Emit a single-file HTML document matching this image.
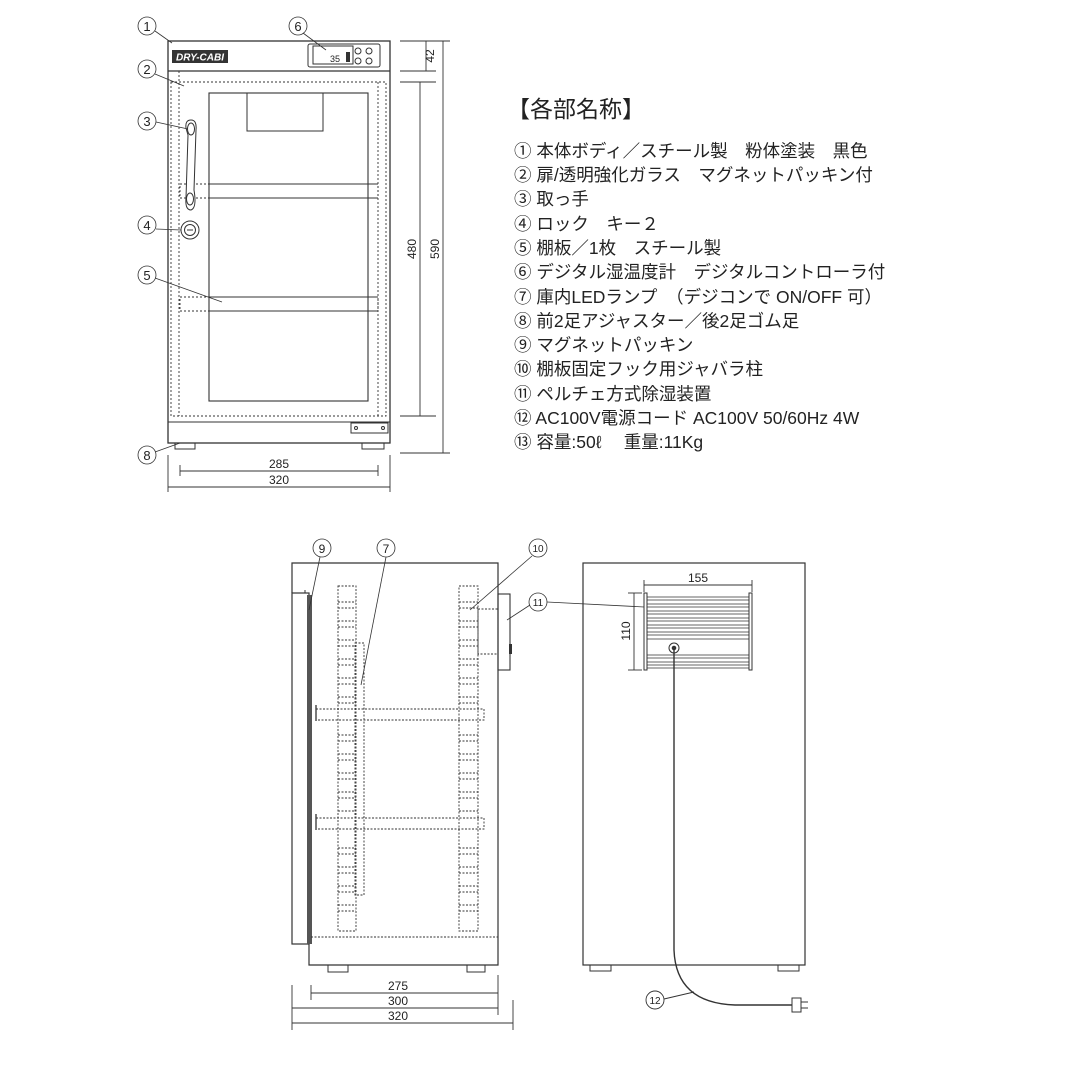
<!DOCTYPE html>
<html><head><meta charset="utf-8"><style>
html,body{margin:0;padding:0;background:#fff}
svg{display:block}
.t{font-family:"Liberation Sans","Noto Sans CJK JP",sans-serif;fill:#222}
</style></head><body>
<svg width="1072" height="1072" viewBox="0 0 1072 1072" xmlns="http://www.w3.org/2000/svg" stroke="#333" fill="none" stroke-width="1">
<!-- FRONT VIEW -->
<rect x="168" y="41" width="222" height="402" stroke-width="1.3"/>
<line x1="168" y1="71" x2="390" y2="71" stroke-width="1.3"/>
<line x1="168" y1="422" x2="390" y2="422"/>
<rect x="172" y="50" width="56" height="13" fill="#333" stroke="none"/>
<text x="200" y="60.5" class="t" font-size="10" font-style="italic" font-weight="bold" text-anchor="middle" style="fill:#fff" stroke="none">DRY-CABI</text>
<rect x="308" y="44" width="72" height="23" rx="2"/>
<rect x="313" y="46" width="40" height="18"/>
<text x="330" y="62" class="t" font-size="9" stroke="none">35</text>
<rect x="346" y="52" width="4" height="10" fill="#333" stroke="none"/>
<circle cx="358" cy="51" r="3"/><circle cx="369" cy="51" r="3"/>
<circle cx="358" cy="61" r="3"/><circle cx="369" cy="61" r="3"/>
<g stroke-dasharray="2,2" stroke-width="0.9">
<rect x="171" y="82" width="215" height="334"/>
<line x1="179" y1="71" x2="179" y2="416"/>
<line x1="378" y1="82" x2="378" y2="416"/>
<rect x="180" y="184" width="198" height="14"/>
<rect x="180" y="297" width="198" height="14"/>
</g>
<rect x="209" y="93" width="159" height="308" stroke-width="1.1"/>
<rect x="247" y="93" width="76" height="38"/>
<line x1="209" y1="184" x2="378" y2="184"/>
<line x1="209" y1="198" x2="378" y2="198"/>
<line x1="209" y1="297" x2="378" y2="297"/>
<line x1="209" y1="311" x2="378" y2="311"/>
<path d="M186 128 Q185 120 191 120 Q197 120 196 130 L194 190 Q197 208 191 210 Q185 210 186 198 L188 135 Z" fill="#fff"/>
<ellipse cx="191" cy="129" rx="3.5" ry="6"/><ellipse cx="190" cy="199" rx="3.5" ry="6"/>
<circle cx="190" cy="230" r="9"/><circle cx="190" cy="230" r="5.5"/>
<line x1="187" y1="230" x2="193" y2="230"/>
<rect x="351" y="423" width="37" height="10"/>
<circle cx="356" cy="428" r="1.5"/><circle cx="383" cy="428" r="1.5"/>
<rect x="175" y="443" width="20" height="6"/>
<rect x="362" y="443" width="22" height="6"/>
<!-- front dims -->
<g stroke-width="0.9">
<line x1="400" y1="41" x2="450" y2="41"/><line x1="400" y1="71" x2="436" y2="71"/>
<line x1="400" y1="82" x2="436" y2="82"/><line x1="400" y1="416" x2="436" y2="416"/>
<line x1="400" y1="453" x2="450" y2="453"/>
<line x1="426" y1="41" x2="426" y2="71"/>
<line x1="420" y1="82" x2="420" y2="416"/>
<line x1="443" y1="41" x2="443" y2="453"/>
<line x1="168" y1="455" x2="168" y2="492"/><line x1="390" y1="455" x2="390" y2="492"/>
<line x1="180" y1="465" x2="180" y2="476"/><line x1="378" y1="465" x2="378" y2="476"/>
<line x1="180" y1="471" x2="378" y2="471"/>
<line x1="168" y1="487" x2="390" y2="487"/>
</g>
<g class="t" stroke="none" font-size="12">
<text x="279" y="468" text-anchor="middle">285</text>
<text x="279" y="484" text-anchor="middle">320</text>
<text transform="translate(434,56) rotate(-90)" text-anchor="middle">42</text>
<text transform="translate(416,249) rotate(-90)" text-anchor="middle">480</text>
<text transform="translate(439,249) rotate(-90)" text-anchor="middle">590</text>
</g>
<!-- front callouts -->
<g stroke-width="0.8">
<line x1="155" y1="31" x2="172" y2="43"/>
<line x1="155" y1="74" x2="184" y2="86"/>
<line x1="156" y1="122" x2="188" y2="129"/>
<line x1="156" y1="229" x2="181" y2="230"/>
<line x1="155" y1="278" x2="222" y2="302"/>
<line x1="303" y1="33" x2="326" y2="50"/>
<line x1="155" y1="452" x2="180" y2="443"/>
<circle cx="147" cy="26" r="9"/><circle cx="147" cy="69" r="9"/><circle cx="147" cy="121" r="9"/>
<circle cx="147" cy="225" r="9"/><circle cx="147" cy="275" r="9"/><circle cx="298" cy="26" r="9"/><circle cx="147" cy="455" r="9"/>
</g>
<g class="t" stroke="none" font-size="13" text-anchor="middle">
<text x="147" y="31">1</text><text x="147" y="74">2</text><text x="147" y="126">3</text>
<text x="147" y="230">4</text><text x="147" y="280">5</text><text x="298" y="31">6</text><text x="147" y="460">8</text>
</g>

<!-- TEXT -->
<g class="t" stroke="none" xml:space="preserve">
<text x="507" y="117" font-size="23">【各部名称】</text>
<g font-size="17.5">
<text x="514" y="157">① 本体ボディ／スチール製　粉体塗装　黒色</text>
<text x="514" y="181">② 扉/透明強化ガラス　マグネットパッキン付</text>
<text x="514" y="205">③ 取っ手</text>
<text x="514" y="230">④ ロック　キー２</text>
<text x="514" y="254">⑤ 棚板／1枚　スチール製</text>
<text x="514" y="278">⑥ デジタル湿温度計　デジタルコントローラ付</text>
<text x="514" y="303">⑦ 庫内LEDランプ　（デジコンで ON/OFF 可）</text>
<text x="514" y="327">⑧ 前2足アジャスター／後2足ゴム足</text>
<text x="514" y="351">⑨ マグネットパッキン</text>
<text x="514" y="375">⑩ 棚板固定フック用ジャバラ柱</text>
<text x="514" y="400">⑪ ペルチェ方式除湿装置</text>
<text x="514" y="424">⑫ AC100V電源コード   AC100V  50/60Hz   4W</text>
<text x="514" y="448">⑬ 容量:50ℓ　 重量:11Kg</text>
</g></g>

<!-- SIDE VIEW -->
<path d="M292 593 V563 H498 V965 H309 V944" stroke-width="1.2"/>
<rect x="292" y="593" width="17" height="351" stroke-width="1.2"/>
<path d="M292 593 H305 V590" />
<rect x="307" y="595" width="5" height="349" fill="#555" stroke="none"/>
<line x1="309" y1="944" x2="309" y2="965"/>
<rect x="328" y="965" width="20" height="7"/><rect x="467" y="965" width="18" height="7"/>
<rect x="498" y="594" width="12" height="76" stroke-width="1.1"/>
<rect x="509" y="644" width="3" height="10" fill="#333" stroke="none"/>
<g stroke-dasharray="2,1.5" stroke-width="0.9">
<line x1="311" y1="937" x2="498" y2="937"/>
<rect x="338" y="586" width="18" height="345"/>
<rect x="459" y="586" width="19" height="345"/>
<rect x="355" y="643" width="9" height="252"/>
<rect x="478" y="609" width="20" height="45"/>
<rect x="316" y="709" width="168" height="11"/>
<rect x="316" y="818" width="168" height="11"/>
<path d="M338 602H356M338 608H356M338 621H356M338 627H356M338 640H356M338 646H356M338 659H356M338 665H356M338 678H356M338 684H356M338 697H356M338 703H356M338 735H356M338 741H356M338 754H356M338 760H356M338 773H356M338 779H356M338 792H356M338 798H356M338 811H356M338 848H356M338 854H356M338 867H356M338 873H356M338 886H356M338 892H356M338 905H356M338 911H356"/>
<path d="M459 602H478M459 608H478M459 621H478M459 627H478M459 640H478M459 646H478M459 659H478M459 665H478M459 678H478M459 684H478M459 697H478M459 703H478M459 735H478M459 741H478M459 754H478M459 760H478M459 773H478M459 779H478M459 792H478M459 798H478M459 811H478M459 848H478M459 854H478M459 867H478M459 873H478M459 886H478M459 892H478M459 905H478M459 911H478"/>
</g>
<line x1="316" y1="705" x2="316" y2="721" stroke-width="1.3"/>
<line x1="316" y1="814" x2="316" y2="830" stroke-width="1.3"/>
<!-- side dims -->
<g stroke-width="0.9">
<line x1="292" y1="985" x2="292" y2="1030"/><line x1="498" y1="975" x2="498" y2="1015"/>
<line x1="311" y1="985" x2="311" y2="1000"/><line x1="513" y1="1000" x2="513" y2="1030"/>
<line x1="311" y1="993" x2="498" y2="993"/>
<line x1="292" y1="1008" x2="498" y2="1008"/>
<line x1="292" y1="1023" x2="513" y2="1023"/>
</g>
<g class="t" stroke="none" font-size="12" text-anchor="middle">
<text x="398" y="990">275</text><text x="398" y="1005">300</text><text x="398" y="1020">320</text>
</g>
<g stroke-width="0.8">
<line x1="320" y1="557" x2="309" y2="610"/>
<line x1="386" y1="557" x2="361" y2="685"/>
<line x1="532" y1="556" x2="470" y2="610"/>
<line x1="530" y1="605" x2="507" y2="620"/>
<line x1="547" y1="602" x2="644" y2="607"/>
<circle cx="322" cy="548" r="9"/><circle cx="386" cy="548" r="9"/>
<circle cx="538" cy="548" r="9"/><circle cx="538" cy="602" r="9"/>
</g>
<g class="t" stroke="none" font-size="12" text-anchor="middle">
<text x="322" y="553">9</text><text x="386" y="553">7</text>
<text x="538" y="552" font-size="10">10</text><text x="538" y="606" font-size="10">11</text>
</g>

<!-- BACK VIEW -->
<rect x="583" y="563" width="222" height="402" stroke-width="1.2"/>
<rect x="590" y="965" width="21" height="6"/><rect x="778" y="965" width="21" height="6"/>
<rect x="644" y="593" width="3" height="77"/><rect x="749" y="593" width="3" height="77"/>
<path d="M647 597H749M647 600H749M647 604H749M647 607H749M647 611H749M647 614H749M647 618H749M647 621H749M647 625H749M647 628H749M647 632H749M647 635H749M647 639H749M647 655H749M647 658H749M647 662H749M647 665H749M647 668H749" stroke-width="0.8"/>
<circle cx="674" cy="648" r="5"/><circle cx="674" cy="648" r="1.8" fill="#333"/>
<path d="M674 648 V950 Q676 1003 735 1005 H792" stroke-width="1.4"/>
<rect x="792" y="998" width="9" height="14" fill="#fff"/>
<path d="M801 1002H808M801 1008H808"/>
<g stroke-width="0.9">
<line x1="644" y1="580" x2="644" y2="592"/><line x1="752" y1="580" x2="752" y2="592"/>
<line x1="644" y1="585" x2="752" y2="585"/>
<line x1="628" y1="593" x2="642" y2="593"/><line x1="628" y1="670" x2="642" y2="670"/>
<line x1="634" y1="593" x2="634" y2="670"/>
<line x1="664" y1="999" x2="694" y2="992"/>
<circle cx="655" cy="1000" r="9"/>
</g>
<g class="t" stroke="none" font-size="12" text-anchor="middle">
<text x="698" y="582">155</text>
<text transform="translate(630,631) rotate(-90)">110</text>
<text x="655" y="1004" font-size="10">12</text>
</g>
</svg>
</body></html>
